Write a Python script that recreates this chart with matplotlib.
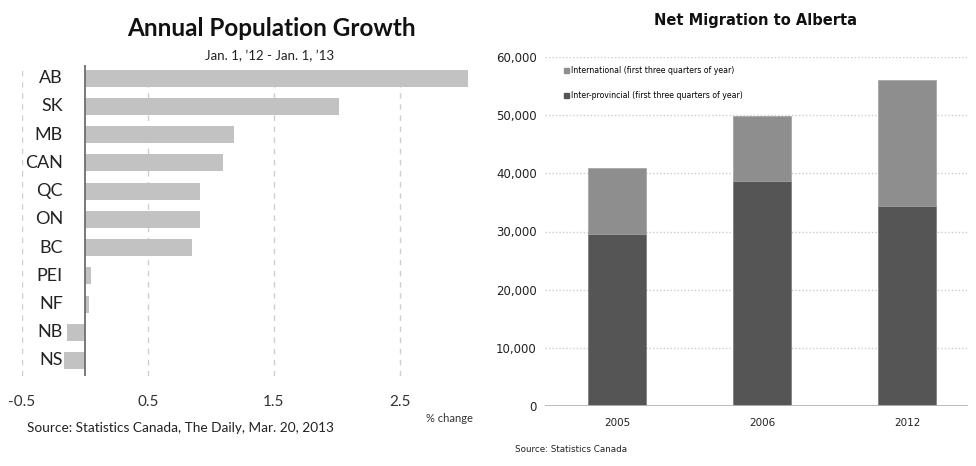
import matplotlib
matplotlib.use("Agg")
import matplotlib.pyplot as plt
from matplotlib.patches import Patch
from matplotlib.transforms import blended_transform_factory

# ---- Data: left chart ----
provinces = ["AB", "SK", "MB", "CAN", "QC", "ON", "BC", "PEI", "NF", "NB", "NS"]
growth_pct = [3.04, 2.02, 1.18, 1.10, 0.91, 0.91, 0.85, 0.05, 0.03, -0.14, -0.17]
x_ticks = [-0.5, 0.5, 1.5, 2.5]
x_tick_labels = ["-0.5", "0.5", "1.5", "2.5"]

# ---- Data: right chart ----
years = ["2005", "2006", "2012"]
inter_provincial = [29600, 38600, 34300]
international = [11300, 11200, 21700]
y_ticks = [0, 10000, 20000, 30000, 40000, 50000, 60000]
y_tick_labels = ["0", "10,000", "20,000", "30,000", "40,000", "50,000", "60,000"]

W, H = 976, 466
fig = plt.figure(figsize=(W / 100, H / 100), dpi=100)
fig.patch.set_facecolor("white")

LFONT = ["Lato", "DejaVu Sans"]
RFONT = ["Liberation Sans Narrow", "DejaVu Sans Condensed", "DejaVu Sans"]

def fx(px):
    return px / W

def fy(py):
    return 1 - py / H

# ---------------- Left chart ----------------
axL = fig.add_axes([fx(22), fy(376), fx(469) - fx(22), fy(65) - fy(376)])
ypos = list(range(len(provinces)))
axL.barh(ypos, growth_pct, height=0.6, color="#c2c2c2", zorder=2)
axL.set_xlim(-0.5, 3.05)
axL.set_ylim(10.55, -0.47)
for s in axL.spines.values():
    s.set_visible(False)
axL.set_yticks([])
axL.set_xticks(x_ticks)
axL.set_xticklabels(x_tick_labels, family=LFONT, fontsize=11, color="#333333")
axL.tick_params(axis="x", length=0, pad=14)
axL.grid(axis="x", linestyle=(0, (4, 4)), color="#cfcfcf", linewidth=1, zorder=0)
axL.axvline(0, color="#6e6e6e", linewidth=1.3, zorder=3)
trL = blended_transform_factory(axL.transAxes, axL.transData)
for yp, name in zip(ypos, provinces):
    axL.text((63 - 22) / (469 - 22), yp, name, transform=trL, ha="right",
             va="center", family=LFONT, fontsize=13, color="#222222", zorder=4)

fig.text(fx(271), fy(29), "Annual Population Growth", ha="center", va="center",
         family=LFONT, fontsize=17.5, fontweight="bold", color="#111111")
fig.text(fx(270), fy(56), "Jan. 1, \u201912 - Jan. 1, \u201913", ha="center",
         va="center", family=LFONT, fontsize=9.5, color="#222222")
fig.text(fx(449), fy(419), "% change", ha="center", va="center",
         family=LFONT, fontsize=8, color="#333333")
fig.text(fx(27), fy(428), "Source: Statistics Canada, The Daily, Mar. 20, 2013",
         ha="left", va="center", family=LFONT, fontsize=9.8, color="#222222")

# ---------------- Right chart ----------------
axR = fig.add_axes([fx(545), fy(406), fx(968) - fx(545), fy(57) - fy(406)])
xpos = list(range(len(years)))
axR.bar(xpos, inter_provincial, width=0.4, color="#555555", zorder=2,
        edgecolor="#777777", linewidth=0.5)
axR.bar(xpos, international, width=0.4, bottom=inter_provincial, color="#8e8e8e",
        zorder=2, edgecolor="#a0a0a0", linewidth=0.5)
axR.set_xlim(-0.5, 2.42)
axR.set_ylim(0, 60000)
for s in axR.spines.values():
    s.set_visible(False)
axR.axhline(0, color="#b5b5b5", linewidth=2, zorder=3)
axR.set_yticks(y_ticks)
axR.set_yticklabels(y_tick_labels, family=RFONT, fontsize=8.5, color="#222222")
axR.set_xticks(xpos)
axR.set_xticklabels(years, family=RFONT, fontsize=7.5, color="#222222")
axR.tick_params(axis="both", length=0)
axR.tick_params(axis="y", pad=6)
axR.tick_params(axis="x", pad=9)
axR.grid(axis="y", linestyle=(0, (1, 1.5)), color="#cccccc", linewidth=1, zorder=0)

handles = [Patch(facecolor="#8e8e8e", edgecolor="#8e8e8e"),
           Patch(facecolor="#555555", edgecolor="#555555")]
labels = ["International (first three quarters of year)",
          "Inter-provincial (first three quarters of year)"]
axR.legend(handles, labels, loc="upper left",
           bbox_to_anchor=((564 - 545) / (968 - 545), 1 - (66 - 57) / (406 - 57)),
           frameon=False, prop={"family": RFONT, "size": 5.6},
           handlelength=0.6, handleheight=0.6, handletextpad=0.3,
           labelspacing=2.1, borderpad=0, borderaxespad=0)

fig.text(fx(756), fy(21), "Net Migration to Alberta", ha="center", va="center",
         family=RFONT, fontsize=10.5, fontweight="bold", color="#111111")
fig.text(fx(515), fy(449), "Source: Statistics Canada", ha="left", va="center",
         family=RFONT, fontsize=6.3, color="#222222")

fig.savefig("out.png", dpi=100, facecolor="white")
